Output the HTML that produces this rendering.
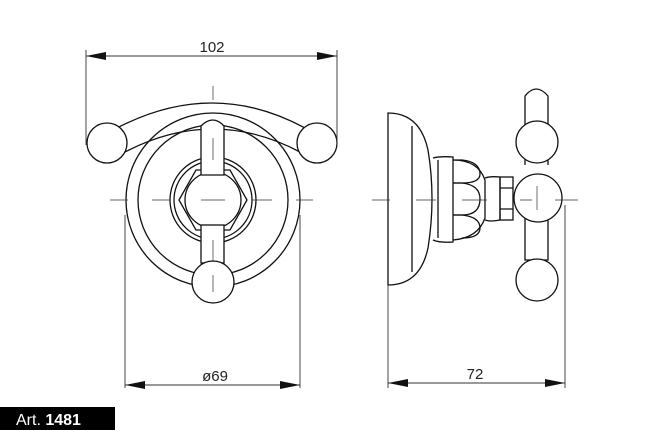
<!DOCTYPE html>
<html><head><style>
html,body{margin:0;padding:0;background:#fff;}
svg{display:block;}
</style></head><body>
<svg width="660" height="430" viewBox="0 0 660 430" xmlns="http://www.w3.org/2000/svg" font-family="Liberation Sans, sans-serif">
<g fill="none" stroke="#111" stroke-width="1.3">
<!-- front view -->
<circle cx="213" cy="200" r="87" fill="#fff"/>
<circle cx="213" cy="200" r="75"/>
<path d="M117 128 Q213 78 305 128"/>
<path d="M125 152 Q213 106 300 152"/>
<circle cx="107" cy="143" r="20" fill="#fff"/>
<circle cx="317" cy="143" r="20" fill="#fff"/>
<circle cx="213" cy="200" r="43"/>
<circle cx="213" cy="200" r="39"/>
<polygon points="179,200 196,170 230,170 247,200 230,230 196,230"/>
<circle cx="213" cy="200" r="28" fill="#fff"/>
<path d="M201 175 V126 Q213 114 224 126 V175 Z" fill="#fff"/>
<rect x="201" y="225" width="23" height="38" fill="#fff"/>
<circle cx="213" cy="282" r="21" fill="#fff"/>
<!-- side view -->
<path d="M388 113 Q420 113 428 150 Q436 198 428 248 Q420 285 388 285 Z" fill="#fff"/>
<path d="M412 126 V272"/>
<path d="M433 158 Q440 156 453 157 V242 Q440 243 433 240"/>
<path d="M438 160 V238"/>
<path d="M453 160 Q478 160 485 180 V218 Q478 238 453 240"/>
<path d="M453 160 H462 Q480 162 480 174 Q480 183 462 183 H453"/>
<path d="M453 183 H462 Q480 185 480 199 Q480 215 462 215 H453"/>
<path d="M453 215 H462 Q480 217 480 228 Q480 238 462 238"/>
<path d="M485 178 Q490 176 500 177 V220 Q490 222 485 220"/>
<rect x="500" y="177" width="13" height="43"/>
<path d="M500 188 H513 M500 209 H513"/>
<path d="M525 165 V96 Q536 82 548 96 V165"/>
<rect x="525" y="215" width="23" height="45" fill="#fff"/>
<circle cx="537" cy="142" r="21" fill="#fff"/>
<circle cx="538" cy="198" r="24" fill="#fff"/>
<circle cx="537" cy="280" r="21" fill="#fff"/>
</g>
<!-- center lines -->
<g stroke="#333" stroke-width="0.7" fill="none">
<path d="M110 200 H128 M152 200 H170 M201 200 H225 M252 200 H272 M296 200 H313"/>
<path d="M213 86 V100 M213 138 V160 M213 240 V262 M213 275 V292"/>
<path d="M372 200 H390 M416 200 H436 M462 200 H487 M520 200 H532 M555 200 H578"/>
<path d="M537 186 V210"/>
</g>
<!-- dimension lines -->
<g stroke="#333" stroke-width="0.9" fill="none">
<path d="M86 50 V145 M337 50 V145 M86 56 H337"/>
<path d="M125 215 V388 M300 215 V388 M125 385 H300"/>
<path d="M388 285 V388 M565 205 V388 M388 383 H565"/>
</g>
<g fill="#111">
<polygon points="86,56 106,52 106,60"/>
<polygon points="337,56 317,52 317,60"/>
<polygon points="125,385 145,381 145,389"/>
<polygon points="300,385 280,381 280,389"/>
<polygon points="388,383 408,379 408,387"/>
<polygon points="565,383 545,379 545,387"/>
</g>
<g font-size="15" fill="#222" text-anchor="middle">
<text x="212" y="52">102</text>
<text x="215" y="381">ø69</text>
<text x="475" y="379">72</text>
</g>
<rect x="0" y="407" width="115" height="23" fill="#000"/>
<text x="16" y="425" font-size="16" fill="#fff">Art. <tspan font-weight="bold">1481</tspan></text>
</svg>
</body></html>
